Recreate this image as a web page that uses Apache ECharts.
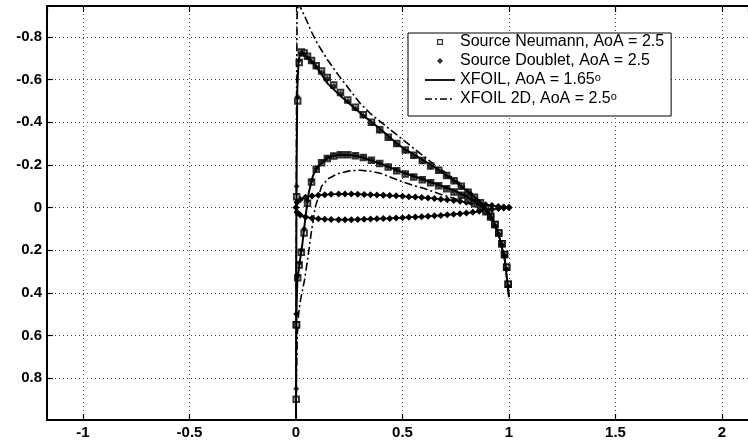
<!DOCTYPE html>
<html>
<head>
<meta charset="utf-8">
<script src="https://cdn.jsdelivr.net/npm/echarts@6/dist/echarts.min.js"></script>
<style>
html,body{margin:0;padding:0;background:#fff;}
#chart{width:748px;height:442px;}
</style>
</head>
<body>
<div id="chart"></div>
<script>
// ---------- data ----------
const seriesNames = ['Source Neumann, AoA = 2.5', 'Source Doublet, AoA = 2.5', 'XFOIL, AoA = 1.65°', 'XFOIL 2D, AoA = 2.5°'];

// panel stations (x/c) of the panel-method results
const panelX = [0.001, 0.003, 0.008, 0.015, 0.025, 0.038, 0.054, 0.073, 0.095, 0.12, 0.147, 0.177, 0.209, 0.243, 0.279, 0.316, 0.354, 0.393, 0.433, 0.473, 0.513, 0.553, 0.593, 0.632, 0.67, 0.707, 0.742, 0.776, 0.808, 0.838, 0.866, 0.891, 0.914, 0.934, 0.952, 0.967, 0.979, 0.989, 0.996];

const neumannUpper = [0.55, -0.05, -0.5, -0.68, -0.73, -0.725, -0.71, -0.69, -0.665, -0.64, -0.61, -0.575, -0.54, -0.505, -0.47, -0.435, -0.4, -0.365, -0.33, -0.3, -0.27, -0.245, -0.22, -0.195, -0.175, -0.15, -0.125, -0.1, -0.072, -0.048, -0.022, 0.005, 0.04, 0.08, 0.12, 0.17, 0.22, 0.28, 0.36];
const neumannLower = [0.9, 0.55, 0.33, 0.27, 0.21, 0.12, -0.02, -0.12, -0.18, -0.21, -0.23, -0.242, -0.247, -0.247, -0.243, -0.235, -0.222, -0.207, -0.19, -0.173, -0.157, -0.143, -0.13, -0.116, -0.102, -0.088, -0.073, -0.057, -0.038, -0.018, 0.0, 0.02, 0.045, 0.08, 0.12, 0.17, 0.22, 0.28, 0.36];

const doubletUpper = [0.5, -0.1, -0.52, -0.69, -0.725, -0.72, -0.705, -0.685, -0.66, -0.635, -0.605, -0.57, -0.535, -0.5, -0.465, -0.43, -0.395, -0.36, -0.327, -0.297, -0.268, -0.242, -0.217, -0.193, -0.172, -0.148, -0.123, -0.098, -0.07, -0.045, -0.02, 0.008, 0.045, 0.085, 0.125, 0.175, 0.225, 0.29, 0.37];
const doubletLower = [0.85, 0.5, 0.32, 0.26, 0.2, 0.1, -0.03, -0.125, -0.182, -0.212, -0.232, -0.244, -0.249, -0.248, -0.244, -0.236, -0.223, -0.208, -0.191, -0.174, -0.158, -0.144, -0.131, -0.117, -0.103, -0.089, -0.074, -0.058, -0.039, -0.019, 0.002, 0.023, 0.05, 0.085, 0.125, 0.175, 0.225, 0.29, 0.37];

// XFOIL, AoA = 1.65 (path: TE -> upper -> LE -> lower -> TE)
const xfoilX = [1.0, 0.98, 0.95, 0.92, 0.89, 0.85, 0.8, 0.75, 0.7, 0.65, 0.6, 0.55, 0.5, 0.45, 0.4, 0.35, 0.3, 0.25, 0.2, 0.15, 0.1, 0.07, 0.045, 0.03, 0.02, 0.012, 0.006, 0.003, 0.001, 0.0, 0.001, 0.003, 0.006, 0.012, 0.02, 0.03, 0.045, 0.06, 0.08, 0.1, 0.15, 0.2, 0.25, 0.3, 0.35, 0.4, 0.45, 0.5, 0.55, 0.6, 0.65, 0.7, 0.75, 0.8, 0.85, 0.89, 0.92, 0.95, 0.98, 1.0];
const xfoilCp = [0.42, 0.24, 0.12, 0.05, 0.0, -0.04, -0.08, -0.12, -0.155, -0.19, -0.22, -0.25, -0.28, -0.32, -0.365, -0.405, -0.445, -0.488, -0.532, -0.58, -0.655, -0.69, -0.715, -0.73, -0.725, -0.69, -0.55, -0.2, 0.3, 1.0, 0.65, 0.45, 0.35, 0.3, 0.24, 0.17, 0.04, -0.07, -0.15, -0.19, -0.235, -0.247, -0.246, -0.238, -0.222, -0.204, -0.185, -0.165, -0.148, -0.13, -0.113, -0.095, -0.077, -0.052, -0.02, 0.01, 0.05, 0.12, 0.24, 0.42];

// XFOIL 2D, AoA = 2.5 (path: TE -> upper -> LE -> lower -> TE)
const xfoil2dX = [1.0, 0.98, 0.95, 0.92, 0.89, 0.85, 0.8, 0.75, 0.7, 0.65, 0.6, 0.55, 0.5, 0.45, 0.4, 0.35, 0.3, 0.25, 0.2, 0.15, 0.1, 0.07, 0.04, 0.02, 0.01, 0.005, 0.002, 0.0, 0.002, 0.006, 0.012, 0.02, 0.03, 0.04, 0.055, 0.07, 0.09, 0.12, 0.15, 0.2, 0.25, 0.3, 0.35, 0.4, 0.45, 0.5, 0.55, 0.6, 0.65, 0.7, 0.75, 0.8, 0.85, 0.89, 0.92, 0.95, 0.98, 1.0];
const xfoil2dCp = [0.42, 0.25, 0.12, 0.05, 0.0, -0.045, -0.09, -0.13, -0.165, -0.2, -0.24, -0.28, -0.32, -0.36, -0.4, -0.44, -0.49, -0.555, -0.62, -0.69, -0.77, -0.83, -0.9, -0.94, -0.96, -0.9, -0.4, 1.0, 0.8, 0.6, 0.5, 0.44, 0.39, 0.34, 0.24, 0.13, 0.0, -0.1, -0.135, -0.16, -0.172, -0.175, -0.17, -0.16, -0.14, -0.12, -0.104, -0.09, -0.072, -0.055, -0.04, -0.022, -0.005, 0.01, 0.05, 0.12, 0.25, 0.42];

// airfoil outline drawn with markers (path: TE -> upper -> LE -> lower -> TE)
const outlineX = [1.0, 0.975, 0.95, 0.92, 0.89, 0.86, 0.83, 0.8, 0.77, 0.74, 0.71, 0.68, 0.65, 0.62, 0.59, 0.56, 0.53, 0.5, 0.47, 0.44, 0.41, 0.38, 0.35, 0.32, 0.29, 0.26, 0.23, 0.2, 0.165, 0.135, 0.105, 0.075, 0.045, 0.02, 0.005, 0.0, 0.005, 0.02, 0.045, 0.075, 0.105, 0.135, 0.165, 0.2, 0.23, 0.26, 0.29, 0.32, 0.35, 0.38, 0.41, 0.44, 0.47, 0.5, 0.53, 0.56, 0.59, 0.62, 0.65, 0.68, 0.71, 0.74, 0.77, 0.8, 0.83, 0.86, 0.89, 0.92, 0.95, 0.975, 1.0];
const outlineY = [0.0, -0.002, -0.005, -0.009, -0.013, -0.017, -0.021, -0.025, -0.029, -0.033, -0.036, -0.039, -0.042, -0.045, -0.047, -0.049, -0.051, -0.053, -0.055, -0.056, -0.058, -0.059, -0.06, -0.061, -0.062, -0.063, -0.063, -0.063, -0.062, -0.06, -0.058, -0.054, -0.048, -0.038, -0.025, 0.0, 0.022, 0.035, 0.044, 0.05, 0.053, 0.055, 0.056, 0.057, 0.057, 0.057, 0.056, 0.055, 0.054, 0.053, 0.052, 0.051, 0.049, 0.048, 0.046, 0.045, 0.043, 0.041, 0.039, 0.037, 0.034, 0.032, 0.029, 0.026, 0.022, 0.018, 0.013, 0.009, 0.005, 0.002, 0.0];

// axis extents read from the frame
const xRange = [-1.169, 2.122];
const yRange = [-0.9455, 0.997];
const xStep = 0.5;
const yStep = 0.2;

// ---------- chart ----------
const pairs = (xs, ys) => xs.map((x, i) => [x, ys[i]]);
const chart = echarts.init(document.getElementById('chart'), null, {renderer: 'canvas'});
const FONT = '"Liberation Sans", Arial, Helvetica, sans-serif';
const gridLine = {show: true, lineStyle: {color: '#444', type: [1, 3], width: 1}};

// legend glyphs (shapes only)
const iconSquare = 'path://M0,0H10V10H0Z M2,2V8H8V2Z';
const iconDiamond = 'path://M5,0L10,5L5,10L0,5Z';
const iconSolid = 'path://M0,0H30V1.8H0Z';
const iconDashDot = 'path://M0,0h7v1.5h-7z M10,0h2v1.5h-2z M15,0h7v1.5h-7z M25,0h2v1.5h-2z M30,0h0.01v1.5h-0.01z';

chart.setOption({
  animation: false,
  backgroundColor: '#fff',
  grid: {left: 47, right: -1, top: 6, bottom: 22, containLabel: false},
  legend: {
    data: [
      {name: seriesNames[0], icon: iconSquare, itemStyle: {color: '#000', borderWidth: 0}},
      {name: seriesNames[1], icon: iconDiamond, itemStyle: {color: '#000', borderWidth: 0}},
      {name: seriesNames[2], icon: iconSolid, itemStyle: {color: '#000', borderWidth: 0}},
      {name: seriesNames[3], icon: iconDashDot, itemStyle: {color: '#000', borderWidth: 0}}
    ],
    orient: 'vertical',
    left: 408, top: 33,
    backgroundColor: '#fff',
    borderColor: '#000', borderWidth: 1, borderRadius: 0,
    padding: [1, 7, 9, 17],
    itemGap: 3, itemWidth: 30, itemHeight: 6, itemTextGap: 3,
    symbolKeepAspect: true,
    selectedMode: false,
    formatter: function (name) {
      if (name.indexOf('°') >= 0) {
        return '{t|' + name.replace('°', '') + '}{s|o}';
      }
      return '{t|' + name + '}';
    },
    textStyle: {
      fontFamily: FONT, fontSize: 16, color: '#000',
      rich: {
        t: {fontFamily: FONT, fontSize: 16, color: '#000', lineHeight: 16},
        s: {fontFamily: FONT, fontSize: 11, color: '#000', lineHeight: 2, verticalAlign: 'top'}
      }
    }
  },
  xAxis: [{
    type: 'value', position: 'bottom',
    min: xRange[0], max: xRange[1], minInterval: xStep, maxInterval: xStep,
    axisLine: {show: true, onZero: false, lineStyle: {color: '#000', width: 2}},
    axisTick: {show: true, inside: true, length: 6, lineStyle: {color: '#000', width: 1.2}},
    axisLabel: {show: true, margin: 5, showMinLabel: false, showMaxLabel: false,
      fontFamily: FONT, fontWeight: 'bold', fontSize: 15, color: '#000'},
    splitLine: gridLine
  }, {
    type: 'value', position: 'top',
    min: xRange[0], max: xRange[1], minInterval: xStep, maxInterval: xStep,
    axisLine: {show: true, onZero: false, lineStyle: {color: '#000', width: 2}},
    axisTick: {show: true, inside: true, length: 6, lineStyle: {color: '#000', width: 1.2}},
    axisLabel: {show: false},
    splitLine: {show: false}
  }],
  yAxis: [{
    type: 'value', position: 'left', inverse: true,
    min: yRange[0], max: yRange[1], minInterval: yStep, maxInterval: yStep,
    axisLine: {show: true, onZero: false, lineStyle: {color: '#000', width: 2}},
    axisTick: {show: true, inside: true, length: 6, lineStyle: {color: '#000', width: 1.2}},
    axisLabel: {show: true, margin: 5, showMinLabel: false, showMaxLabel: false,
      fontFamily: FONT, fontWeight: 'bold', fontSize: 15, color: '#000'},
    splitLine: gridLine
  }],
  series: [
    {
      name: 'Airfoil', type: 'line', data: pairs(outlineX, outlineY),
      symbol: 'diamond', symbolSize: 7, showAllSymbol: true,
      itemStyle: {color: '#000'}, lineStyle: {color: '#000', width: 1.6}, z: 2
    },
    {
      name: seriesNames[3], type: 'line', data: pairs(xfoil2dX, xfoil2dCp),
      symbol: 'none', itemStyle: {color: '#000'},
      lineStyle: {color: '#000', width: 1.6, type: [8, 3, 2, 3]}, z: 3
    },
    {
      name: seriesNames[0], type: 'scatter',
      data: pairs(panelX, neumannUpper).concat(pairs(panelX, neumannLower)),
      symbol: 'emptyRect', symbolSize: 5.5,
      itemStyle: {color: '#000', borderColor: '#000', borderWidth: 1.2}, z: 4
    },
    {
      name: seriesNames[1], type: 'scatter',
      data: pairs(panelX, doubletUpper).concat(pairs(panelX, doubletLower)),
      symbol: 'diamond', symbolSize: 6,
      itemStyle: {color: '#000'}, z: 4
    },
    {
      name: seriesNames[2], type: 'line', data: pairs(xfoilX, xfoilCp),
      symbol: 'none', itemStyle: {color: '#000'},
      lineStyle: {color: '#000', width: 2, type: 'solid'}, z: 5
    }
  ]
});
</script>
</body>
</html>
